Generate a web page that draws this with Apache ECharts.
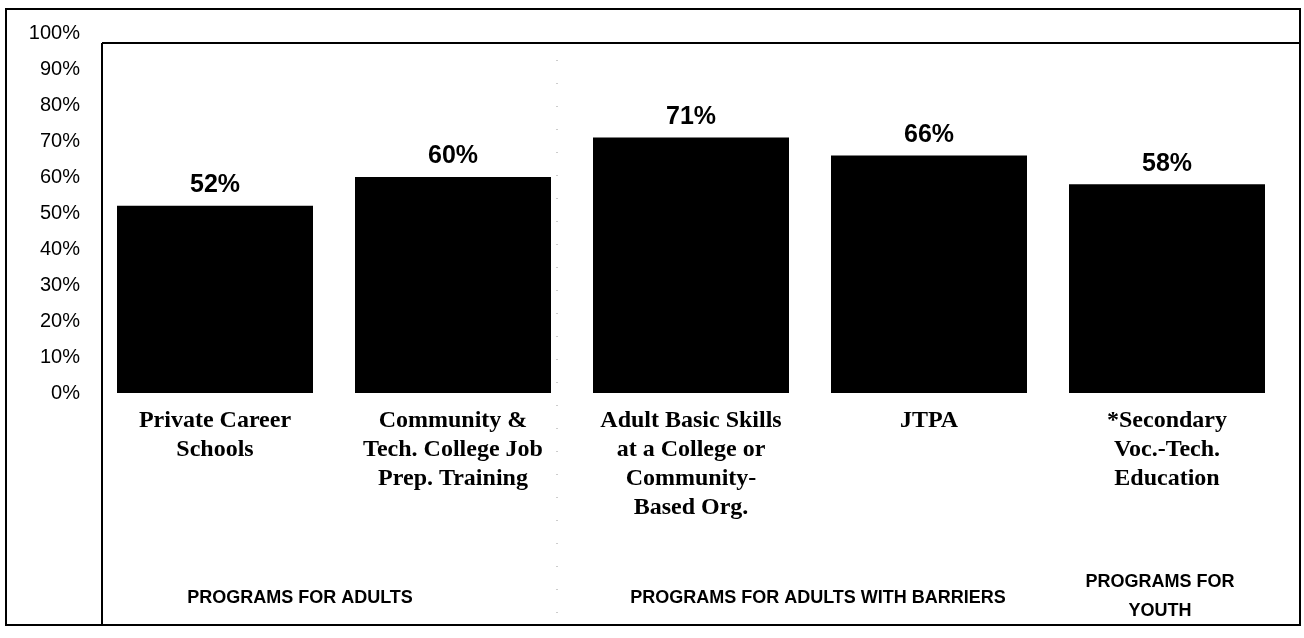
<!DOCTYPE html>
<html>
<head>
<meta charset="utf-8">
<script src="https://cdn.jsdelivr.net/npm/echarts@6/dist/echarts.min.js"></script>
<style>
  html, body { margin: 0; padding: 0; background: #fff; }
  #chart { width: 1304px; height: 638px; }
</style>
</head>
<body>
<div id="chart"></div>
<script>
// Program categories (x axis) and share values in percent
const categories = [
  'Private Career\nSchools',
  'Community &\nTech. College Job\nPrep. Training',
  'Adult Basic Skills\nat a College or\nCommunity-\nBased Org.',
  'JTPA',
  '*Secondary\nVoc.-Tech.\nEducation'
];
const values = [52, 60, 71, 66, 58];

// Y axis ticks (percent)
const yTicks = [0, 10, 20, 30, 40, 50, 60, 70, 80, 90, 100];

// Program groups shown along the bottom of the frame
const groupNames = [
  'PROGRAMS FOR ADULTS',
  'PROGRAMS FOR ADULTS WITH BARRIERS',
  'PROGRAMS FOR\nYOUTH'
];

const chart = echarts.init(document.getElementById('chart'), null, { renderer: 'canvas' });

const sans = '"Liberation Sans", Arial, Helvetica, sans-serif';
const serif = '"Liberation Serif", "Times New Roman", Times, serif';

const groupStyle = {
  fontFamily: sans,
  fontWeight: 'bold',
  fontSize: 18,
  fill: '#000',
  textAlign: 'center',
  textVerticalAlign: 'middle',
  lineHeight: 29
};

chart.setOption({
  backgroundColor: '#ffffff',
  animation: false,
  grid: { left: 96, right: 18, top: 33, bottom: 245 },
  xAxis: {
    type: 'category',
    data: categories,
    axisLine: { show: false },
    axisTick: { show: false },
    axisLabel: {
      interval: 0,
      margin: 13,
      color: '#000',
      fontFamily: serif,
      fontWeight: 'bold',
      fontSize: 24,
      lineHeight: 29,
      align: 'center'
    }
  },
  yAxis: {
    type: 'value',
    min: yTicks[0],
    max: yTicks[yTicks.length - 1],
    interval: 10,
    axisLine: { show: false },
    axisTick: { show: false },
    splitLine: { show: false },
    axisLabel: {
      margin: 16,
      color: '#000',
      fontFamily: sans,
      fontSize: 20,
      formatter: v => v + '%'
    }
  },
  series: [{
    type: 'bar',
    data: values,
    barWidth: 196,
    itemStyle: { color: '#000' },
    label: {
      show: true,
      position: 'top',
      distance: 8,
      color: '#000',
      fontFamily: sans,
      fontWeight: 'bold',
      fontSize: 25,
      formatter: p => p.value + '%'
    }
  }],
  graphic: [
    // outer frame
    { type: 'rect', shape: { x: 6, y: 9, width: 1294, height: 616 },
      style: { fill: 'none', stroke: '#000', lineWidth: 2 }, silent: true },
    // inner plot frame: left edge and top edge
    { type: 'line', shape: { x1: 102, y1: 43, x2: 102, y2: 625 },
      style: { stroke: '#000', lineWidth: 2 }, silent: true },
    { type: 'line', shape: { x1: 102, y1: 43, x2: 1300, y2: 43 },
      style: { stroke: '#000', lineWidth: 2 }, silent: true },
    // faint dotted divider between the first two groups
    { type: 'line', shape: { x1: 557, y1: 60, x2: 557, y2: 620 },
      style: { stroke: '#9a9a9a', lineWidth: 1, lineDash: [1, 22] }, silent: true },
    // group captions
    { type: 'text', x: 300, y: 598, style: Object.assign({ text: groupNames[0] }, groupStyle) },
    { type: 'text', x: 818, y: 598, style: Object.assign({ text: groupNames[1] }, groupStyle) },
    { type: 'text', x: 1160, y: 597, style: Object.assign({ text: groupNames[2] }, groupStyle) }
  ]
});
</script>
</body>
</html>
